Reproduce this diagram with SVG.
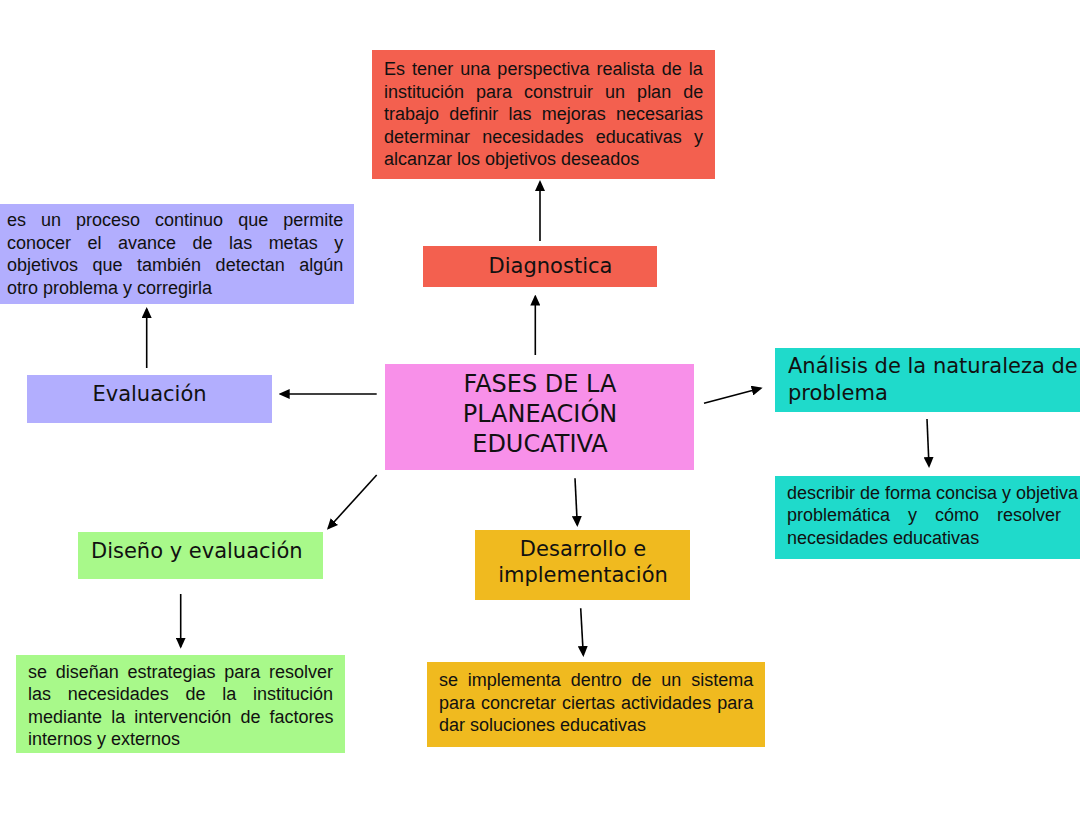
<svg xmlns="http://www.w3.org/2000/svg" width="1080" height="834" viewBox="0 0 1080 834">
<defs>
<style>
.body{font-family:"Liberation Sans",Arial,sans-serif;font-size:18px;fill:#111}
.head{font-family:"DejaVu Sans",sans-serif;font-size:21px;fill:#111}
.c{text-anchor:middle}
.conn line{stroke:#000;stroke-width:1.6;marker-end:url(#ah)}
</style>
<marker id="ah" markerUnits="userSpaceOnUse" markerWidth="11" markerHeight="10" refX="9" refY="5" orient="auto">
<path d="M0,0 L11,5 L0,10 z" fill="#000"/>
</marker>
</defs>
<rect width="1080" height="834" fill="#fff"/>

<g id="diag-def">
<rect x="372" y="50" width="343" height="129" fill="#F3604F"/>
<text class="body"><tspan x="384" y="75" word-spacing="2.1">Es tener una perspectiva realista de la</tspan><tspan x="384" y="97.5" word-spacing="7">institución para construir un plan de</tspan><tspan x="384" y="120" word-spacing="5.2">trabajo definir las mejoras necesarias</tspan><tspan x="384" y="142.5" word-spacing="7.3">determinar necesidades educativas y</tspan><tspan x="384" y="165">alcanzar los objetivos deseados</tspan></text>
</g>

<g id="diagnostica">
<rect x="423" y="246" width="234" height="41" fill="#F3604F"/>
<text class="head c" x="550.5" y="272.5">Diagnostica</text>
</g>

<g id="eval-def">
<rect x="0" y="204" width="354" height="100" fill="#B2AEFE"/>
<text class="body"><tspan x="7" y="226" word-spacing="10">es un proceso continuo que permite</tspan><tspan x="7" y="248.5" word-spacing="11.5">conocer el avance de las metas y</tspan><tspan x="7" y="271" word-spacing="9.5">objetivos que también detectan algún</tspan><tspan x="7" y="293.5">otro problema y corregirla</tspan></text>
</g>

<g id="evaluacion">
<rect x="27" y="375" width="245" height="48" fill="#B2AEFE"/>
<text class="head c" x="149.5" y="401">Evaluación</text>
</g>

<g id="central">
<rect x="385" y="364" width="309" height="106" fill="#F890E9"/>
<text class="head c" style="font-size:24px"><tspan x="540" y="392">FASES DE LA</tspan><tspan x="540" y="422">PLANEACIÓN</tspan><tspan x="540" y="452">EDUCATIVA</tspan></text>
</g>

<g id="analisis">
<rect x="775" y="348" width="305" height="64" fill="#1FDACB"/>
<text class="head"><tspan x="788" y="373">Análisis de la naturaleza de</tspan><tspan x="788" y="400">problema</tspan></text>
</g>

<g id="analisis-def">
<rect x="775" y="476" width="305" height="83" fill="#1FDACB"/>
<text class="body"><tspan x="787" y="498.5">describir de forma concisa y objetiva</tspan><tspan x="787" y="521" word-spacing="13">problemática y cómo resolver</tspan><tspan x="787" y="543.5">necesidades educativas</tspan></text>
</g>

<g id="diseno">
<rect x="78" y="532" width="245" height="47" fill="#A8F98A"/>
<text class="head" x="91" y="557.5">Diseño y evaluación</text>
</g>

<g id="diseno-def">
<rect x="16" y="655" width="329" height="98" fill="#A8F98A"/>
<text class="body"><tspan x="28" y="677.5" word-spacing="3.7">se diseñan estrategias para resolver</tspan><tspan x="28" y="700" word-spacing="11.7">las necesidades de la institución</tspan><tspan x="28" y="722.5" word-spacing="4.1">mediante la intervención de factores</tspan><tspan x="28" y="745">internos y externos</tspan></text>
</g>

<g id="desarrollo">
<rect x="475" y="530" width="215" height="70" fill="#F0BA1F"/>
<text class="head c"><tspan x="583" y="556">Desarrollo e</tspan><tspan x="583" y="582">implementación</tspan></text>
</g>

<g id="desarrollo-def">
<rect x="427" y="662" width="338" height="85" fill="#F0BA1F"/>
<text class="body"><tspan x="439" y="686" word-spacing="4.8">se implementa dentro de un sistema</tspan><tspan x="439" y="708.5" word-spacing="1">para concretar ciertas actividades para</tspan><tspan x="439" y="731">dar soluciones educativas</tspan></text>
</g>

<g id="connectors" class="conn">
<line x1="540" y1="241" x2="540" y2="182"/>
<line x1="535.3" y1="355" x2="535.3" y2="296.5"/>
<line x1="146.7" y1="368" x2="146.7" y2="309"/>
<line x1="376.7" y1="394" x2="280.7" y2="394"/>
<line x1="704" y1="403.3" x2="760.7" y2="388.3"/>
<line x1="927" y1="419" x2="929" y2="466"/>
<line x1="376.7" y1="475" x2="328.3" y2="528.3"/>
<line x1="180.7" y1="594" x2="180.7" y2="646.7"/>
<line x1="575" y1="478.3" x2="577.3" y2="525"/>
<line x1="580.7" y1="608.3" x2="583.3" y2="655"/>
</g>
</svg>
